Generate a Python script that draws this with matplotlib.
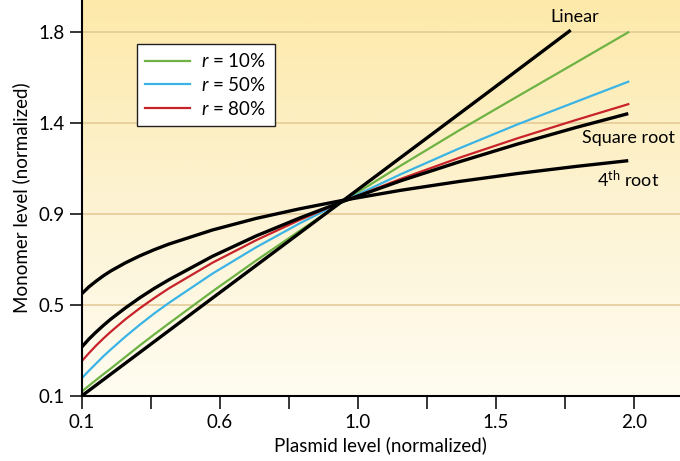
import numpy as np
import matplotlib.pyplot as plt
from matplotlib.colors import LinearSegmentedColormap

plt.rcParams['font.family'] = ['Lato', 'DejaVu Sans']
plt.rcParams['mathtext.fontset'] = 'custom'
plt.rcParams['mathtext.rm'] = 'Lato'
plt.rcParams['mathtext.it'] = 'Lato:italic'

# Data
x = [0.1, 0.125, 0.15, 0.175, 0.2, 0.25, 0.3, 0.35, 0.4, 0.55, 0.7, 0.85,
     1.0, 1.2, 1.4, 1.6, 1.8, 1.98]
linear_x = [0.1, 0.5, 1.0, 1.5, 1.782]
linear_y = [0.1, 0.507, 1.014, 1.522, 1.81]
sqrt_y = [0.328, 0.366, 0.399, 0.43, 0.459, 0.511, 0.559, 0.603, 0.643, 0.753,
          0.848, 0.932, 1.01, 1.107, 1.195, 1.278, 1.355, 1.42]
fourth_y = [0.577, 0.61, 0.637, 0.662, 0.684, 0.722, 0.755, 0.784, 0.81, 0.876,
            0.93, 0.975, 1.015, 1.062, 1.103, 1.14, 1.173, 1.20]
r10_y = [0.12, 0.148, 0.175, 0.202, 0.228, 0.282, 0.336, 0.388, 0.439, 0.589,
         0.733, 0.872, 1.01, 1.179, 1.343, 1.501, 1.658, 1.80]
r50_y = [0.182, 0.218, 0.252, 0.286, 0.317, 0.377, 0.433, 0.486, 0.535, 0.672,
         0.795, 0.907, 1.01, 1.138, 1.258, 1.37, 1.475, 1.569]
r80_y = [0.262, 0.30, 0.336, 0.369, 0.40, 0.458, 0.51, 0.558, 0.603, 0.723,
         0.828, 0.923, 1.01, 1.116, 1.214, 1.305, 1.39, 1.464]

xticks = [0.1, 0.575, 1.05, 1.525, 2.0]
xtick_labels = ['0.1', '0.6', '1.0', '1.5', '2.0']
xminor = [0.3375, 0.8125, 1.2875, 1.7625]
yticks = [0.1, 0.525, 0.95, 1.375, 1.8]
ytick_labels = ['0.1', '0.5', '0.9', '1.4', '1.8']

fig = plt.figure(figsize=(6.8, 4.61), dpi=100)
ax = fig.add_axes([0.12, 0.141, 0.88, 0.859])
xlim = (0.1, 2.158)
ylim = (0.1, 1.951)

# background gradient
cmap = LinearSegmentedColormap.from_list('bg', ['#fffcf1', '#fdf3d2', '#fde9a9'])
grad = np.linspace(0, 1, 256).reshape(-1, 1)
ax.imshow(grad, cmap=cmap, origin='lower', aspect='auto',
          extent=[xlim[0], xlim[1], ylim[0], ylim[1]], zorder=0)

for yt in yticks[1:]:
    ax.axhline(yt, color='#e2c994', lw=1.1, zorder=1)

ax.plot(x, fourth_y, color='black', lw=2.4, zorder=3, solid_capstyle='butt')
ax.plot(x, sqrt_y, color='black', lw=2.4, zorder=3, solid_capstyle='butt')
ax.plot(linear_x, linear_y, color='black', lw=2.4, zorder=3, solid_capstyle='butt')
ax.plot(x, r10_y, color='#6db243', lw=1.6, zorder=2, label='$r$ = 10%')
ax.plot(x, r50_y, color='#3bb4e5', lw=1.6, zorder=2, label='$r$ = 50%')
ax.plot(x, r80_y, color='#c8222b', lw=1.6, zorder=2, label='$r$ = 80%')

ax.text(1.797, 1.872, 'Linear', fontsize=13, ha='center', va='center')
ax.text(1.98, 1.306, 'Square root', fontsize=13, ha='center', va='center')
ax.text(1.98, 1.11, '4$^{\\mathrm{th}}$ root', fontsize=13, ha='center', va='center')

ax.set_xlim(xlim)
ax.set_ylim(ylim)
ax.set_xticks(xticks)
ax.set_xticklabels(xtick_labels)
ax.set_xticks(xminor, minor=True)
ax.set_yticks(yticks)
ax.set_yticklabels(ytick_labels)
ax.tick_params(which='both', direction='out', length=9, width=1.1, labelsize=13.5)
ax.tick_params(axis='x', pad=4)
ax.tick_params(axis='y', pad=3)

for side in ['top', 'right']:
    ax.spines[side].set_visible(False)
for side in ['left', 'bottom']:
    ax.spines[side].set_linewidth(1.5)

ax.set_xlabel('Plasmid level (normalized)', fontsize=13.5, labelpad=4)
ax.set_ylabel('Monomer level (normalized)', fontsize=13.5, labelpad=6)

leg = ax.legend(loc='upper left', bbox_to_anchor=(0.092, 0.889), fontsize=13.5,
                fancybox=False, framealpha=1, edgecolor='#222222',
                handlelength=2.4, handletextpad=0.6, borderpad=0.45,
                labelspacing=0.3, borderaxespad=0)
leg.get_frame().set_linewidth(1.0)

plt.savefig('out.png', dpi=100)
